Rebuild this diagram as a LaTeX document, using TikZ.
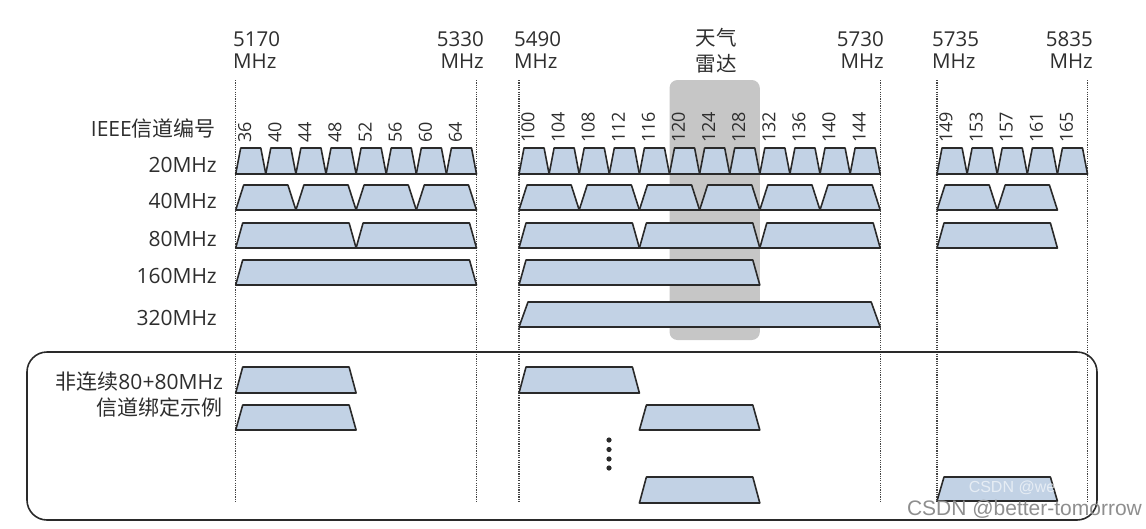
\documentclass[tikz,border=0pt]{standalone}
\usepackage{fontspec}
\setmainfont{Open Sans}
\newfontfamily\cjk{Noto Sans CJK SC}
\newfontfamily\wmfont{Liberation Sans}
\usepackage{tikz}
\usetikzlibrary{positioning}
\definecolor{bandfill}{HTML}{C2D2E5}
\definecolor{bandline}{HTML}{2A2A2A}
\definecolor{radargray}{HTML}{C6C6C6}
\definecolor{labelink}{HTML}{2E2E2E}
\definecolor{fenceink}{HTML}{444444}
\definecolor{wmgray}{HTML}{8E8E8E}

% channel band: [slant]{left}{right}{top}{bottom}
\newcommand{\chanband}[5][7]{%
  \draw[band] (#2,#5) -- (#2+#1,#4) -- (#3-#1,#4) -- (#3,#5) -- cycle;}

\def\xA{235.7}
\def\xB{519}
\def\xC{937}
\def\cw{30.1}

\begin{document}
\begin{tikzpicture}[x=1pt, y=-1pt,
  font=\fontsize{20.5}{22}\selectfont, text=labelink,
  band/.style={draw=bandline, fill=bandfill, line width=1.6pt, line join=round},
  fence/.style={draw=fenceink, line width=1.3pt, dash pattern=on 1.2pt off 1.1pt},
  chnum/.style={rotate=90, anchor=west, inner sep=0pt, font=\fontsize{18}{18}\selectfont},
  freq/.style={inner sep=0pt},
  rowlab/.style={anchor=base east, inner sep=0pt, font=\fontsize{21}{22}\selectfont},
  ]
  \useasboundingbox (0,0) rectangle (1146,528);

  % weather radar window
  \fill[radargray, rounded corners=8pt] (\xB+5*\cw,80) rectangle (\xB+8*\cw,340);

  % band edges
  \foreach \x in {\xA, \xA+8*\cw, \xB, \xB+12*\cw, \xC, \xC+5*\cw}
    \draw[fence] (\x,80) -- (\x,503);

  \node[freq, anchor=north west, align=left] (f5170) at (233,31) {5170\\MHz};
  \node[freq, anchor=north east, align=right] (f5330) at (484,31) {5330\\MHz};
  \node[freq, anchor=north west, align=left] (f5490) at (514,31) {5490\\MHz};
  \node[freq, anchor=north east, align=right] (f5730) at (884,31) {5730\\MHz};
  \node[freq, anchor=north west, align=left] (f5735) at (932,31) {5735\\MHz};
  \node[freq, anchor=north east, align=right] (f5835) at (1093,31) {5835\\MHz};
  \node[freq, anchor=north, align=center, font=\cjk\fontsize{20.5}{26}\selectfont] (radar) at (716,28) {天气\\雷达};

  % channel numbers
  \foreach \n [count=\i from 0] in {36,40,44,48,52,56,60,64}
    \node[chnum] (ch\n) at (\xA+\i*\cw+\cw/2-6,143) {\n};
  \foreach \n [count=\i from 0] in {100,104,108,112,116,120,124,128,132,136,140,144}
    \node[chnum] (ch\n) at (\xB+\i*\cw+\cw/2-6,143) {\n};
  \foreach \n [count=\i from 0] in {149,153,157,161,165}
    \node[chnum] (ch\n) at (\xC+\i*\cw+\cw/2-6,143) {\n};

  % row labels
  \node[rowlab] (ieee) at (216,136.5) {IEEE{\cjk 信道编号}};
  \node[rowlab] (w20) at (217,172) {20MHz};
  \node[rowlab] (w40) at (217,208) {40MHz};
  \node[rowlab] (w80) at (217,246.5) {80MHz};
  \node[rowlab] (w160) at (217,283.5) {160MHz};
  \node[rowlab] (w320) at (217,325) {320MHz};

  % 20 MHz
  \foreach \i in {0,...,7} {\chanband[5]{\xA+\i*\cw}{\xA+\i*\cw+\cw}{148}{174}}
  \foreach \i in {0,...,11} {\chanband[5]{\xB+\i*\cw}{\xB+\i*\cw+\cw}{148}{174}}
  \foreach \i in {0,...,4} {\chanband[5]{\xC+\i*\cw}{\xC+\i*\cw+\cw}{148}{174}}
  % 40 MHz
  \foreach \i in {0,2,4,6} {\chanband[8]{\xA+\i*\cw}{\xA+\i*\cw+2*\cw}{185}{210}}
  \foreach \i in {0,2,...,10} {\chanband[8]{\xB+\i*\cw}{\xB+\i*\cw+2*\cw}{185}{210}}
  \foreach \i in {0,2} {\chanband[8]{\xC+\i*\cw}{\xC+\i*\cw+2*\cw}{185}{210}}
  % 80 MHz
  \foreach \i in {0,4} {\chanband{\xA+\i*\cw}{\xA+\i*\cw+4*\cw}{223}{248}}
  \foreach \i in {0,4,8} {\chanband{\xB+\i*\cw}{\xB+\i*\cw+4*\cw}{223}{248}}
  \chanband{\xC}{\xC+4*\cw}{223}{248}
  % 160 MHz
  \chanband{\xA}{\xA+8*\cw}{260}{285}
  \chanband{\xB}{\xB+8*\cw}{260}{285}
  % 320 MHz
  \chanband[9]{\xB}{\xB+12*\cw}{302}{327}

  % 80+80 MHz examples
  \draw[draw=bandline, line width=1.6pt, rounded corners=20pt] (27,352) rectangle (1097,520);
  \node[rowlab] (nc1) at (223,389.5) {{\cjk 非连续}80+80MHz};
  \node[rowlab] (nc2) at (223,415) {\cjk 信道绑定示例};
  \chanband{\xA}{\xA+4*\cw}{367}{393}
  \chanband{\xB}{\xB+4*\cw}{367}{393}
  \chanband{\xA}{\xA+4*\cw}{405}{430}
  \chanband{\xB+4*\cw}{\xB+8*\cw}{405}{430}
  \foreach \y in {440,449.5,459,468}
    \fill[bandline] (609,\y) circle (2.6pt);
  \chanband{\xB+4*\cw}{\xB+8*\cw}{477}{503}
  \chanband{\xC}{\xC+4*\cw}{477}{501}

  \node[font=\wmfont\fontsize{16}{16}\selectfont, text=white, opacity=.6] (wm1) at (1024,488) {CSDN @wellny};
  \node[font=\wmfont\fontsize{21}{21}\selectfont, text=wmgray] (wm2) at (1024.5,509) {CSDN @better-tomorrow};
\end{tikzpicture}
\end{document}
